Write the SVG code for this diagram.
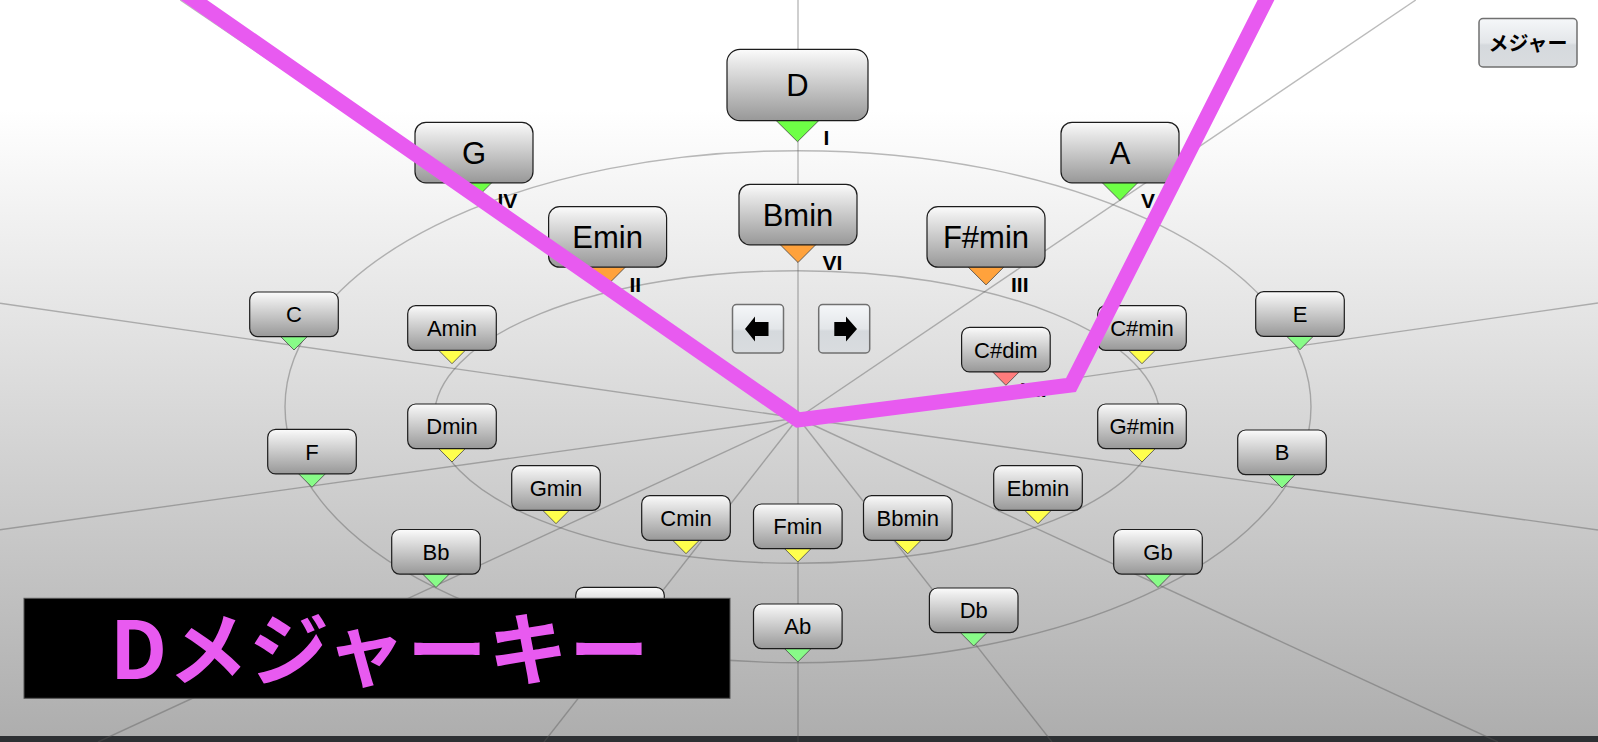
<svg xmlns="http://www.w3.org/2000/svg" width="1598" height="742" viewBox="0 0 1598 742">
<defs>
<linearGradient id="bg" x1="0" y1="0" x2="0" y2="1">
<stop offset="0.148" stop-color="#ffffff"/>
<stop offset="0.99" stop-color="#aeaeae"/>
</linearGradient>
<linearGradient id="boxg" x1="0" y1="0" x2="0" y2="1">
<stop offset="0" stop-color="#fcfcfc"/>
<stop offset="0.15" stop-color="#ebebeb"/>
<stop offset="1" stop-color="#989898"/>
</linearGradient>
<linearGradient id="btng" x1="0" y1="0" x2="0" y2="1">
<stop offset="0" stop-color="#f5f7f9"/>
<stop offset="0.5" stop-color="#e3e6e9"/>
<stop offset="0.55" stop-color="#d5d9dd"/>
<stop offset="1" stop-color="#d9dcdf"/>
</linearGradient>
</defs>
<style>
.grid{fill:none;stroke:#555;stroke-opacity:0.4;stroke-width:1.4}
.box{fill:url(#boxg);stroke:#1c1c1c;stroke-width:1.2}
.ptr{stroke:#444;stroke-width:0.8}
.maj{fill:#88fb88}
.min{fill:#ffff4d}
.kmaj{fill:#6eff46}
.kmin{fill:#ffa23c}
.kdim{fill:#ff7c7c}
.sm{font-family:"Liberation Sans",Arial,sans-serif;font-size:22px;fill:#000;text-anchor:middle}
.lg{font-family:"Liberation Sans",Arial,sans-serif;font-size:31px;fill:#000;text-anchor:middle}
.rn{font-family:"Liberation Sans",Arial,sans-serif;font-size:21px;font-weight:bold;fill:#000}
.btn{fill:url(#btng);stroke:#707070;stroke-width:1.5}
.arr{fill:#000}
</style>
<rect x="0" y="0" width="1598" height="742" fill="url(#bg)"/>
<rect x="0" y="736" width="1598" height="6" fill="#2d3033"/>
<g id="grid">
<ellipse class="grid" cx="798" cy="406.7" rx="513" ry="256"/>
<ellipse class="grid" cx="797" cy="417" rx="362.7" ry="146.3"/>
<line class="grid" x1="798" y1="0" x2="798" y2="742"/>
<line class="grid" x1="798" y1="418" x2="1415.8" y2="0"/>
<line class="grid" x1="798" y1="418" x2="180.2" y2="0"/>
<line class="grid" x1="798" y1="418" x2="1598" y2="303"/>
<line class="grid" x1="798" y1="418" x2="0" y2="303.3"/>
<line class="grid" x1="798" y1="418" x2="1598" y2="530"/>
<line class="grid" x1="798" y1="418" x2="0" y2="529.7"/>
<line class="grid" x1="798" y1="418" x2="1498" y2="742"/>
<line class="grid" x1="798" y1="418" x2="98" y2="742"/>
<line class="grid" x1="798" y1="418" x2="1052" y2="742"/>
<line class="grid" x1="798" y1="418" x2="544" y2="742"/>
</g>
<g id="node-C"><polygon class="ptr maj" points="279.7,335.6 308.3,335.6 294,350"/><rect class="box" x="249.7" y="292" width="88.6" height="44.6" rx="8"/><text class="sm" x="294" y="322.2">C</text></g>
<g id="node-F"><polygon class="ptr maj" points="297.7,472.9 326.3,472.9 312,487.3"/><rect class="box" x="267.7" y="429.3" width="88.6" height="44.6" rx="8"/><text class="sm" x="312" y="459.5">F</text></g>
<g id="node-Bb"><polygon class="ptr maj" points="421.7,573.1 450.3,573.1 436,587.5"/><rect class="box" x="391.7" y="529.5" width="88.6" height="44.6" rx="8"/><text class="sm" x="436" y="559.7">Bb</text></g>
<g id="node-Eb"><polygon class="ptr maj" points="605.7,630.9 634.3,630.9 620,645.3"/><rect class="box" x="575.7" y="587.3" width="88.6" height="44.6" rx="8"/></g>
<g id="node-Ab"><polygon class="ptr maj" points="783.5,647.6 812.1,647.6 797.8,662"/><rect class="box" x="753.5" y="604" width="88.6" height="44.6" rx="8"/><text class="sm" x="797.8" y="634.2">Ab</text></g>
<g id="node-Db"><polygon class="ptr maj" points="959.4,631.6 988,631.6 973.7,646"/><rect class="box" x="929.4" y="588" width="88.6" height="44.6" rx="8"/><text class="sm" x="973.7" y="618.2">Db</text></g>
<g id="node-Gb"><polygon class="ptr maj" points="1143.7,573.1 1172.3,573.1 1158,587.5"/><rect class="box" x="1113.7" y="529.5" width="88.6" height="44.6" rx="8"/><text class="sm" x="1158" y="559.7">Gb</text></g>
<g id="node-B"><polygon class="ptr maj" points="1267.7,473.6 1296.3,473.6 1282,488"/><rect class="box" x="1237.7" y="430" width="88.6" height="44.6" rx="8"/><text class="sm" x="1282" y="460.2">B</text></g>
<g id="node-E"><polygon class="ptr maj" points="1285.7,335.3 1314.3,335.3 1300,349.7"/><rect class="box" x="1255.7" y="291.7" width="88.6" height="44.6" rx="8"/><text class="sm" x="1300" y="321.9">E</text></g>
<g id="node-Amin"><polygon class="ptr min" points="437.7,349.3 466.3,349.3 452,363.7"/><rect class="box" x="407.7" y="305.7" width="88.6" height="44.6" rx="8"/><text class="sm" x="452" y="335.9">Amin</text></g>
<g id="node-Dmin"><polygon class="ptr min" points="437.7,447.6 466.3,447.6 452,462"/><rect class="box" x="407.7" y="404" width="88.6" height="44.6" rx="8"/><text class="sm" x="452" y="434.2">Dmin</text></g>
<g id="node-Gmin"><polygon class="ptr min" points="541.7,509.3 570.3,509.3 556,523.7"/><rect class="box" x="511.7" y="465.7" width="88.6" height="44.6" rx="8"/><text class="sm" x="556" y="495.9">Gmin</text></g>
<g id="node-Cmin"><polygon class="ptr min" points="671.7,539.3 700.3,539.3 686,553.7"/><rect class="box" x="641.7" y="495.7" width="88.6" height="44.6" rx="8"/><text class="sm" x="686" y="525.9">Cmin</text></g>
<g id="node-Fmin"><polygon class="ptr min" points="783.5,547.6 812.1,547.6 797.8,562"/><rect class="box" x="753.5" y="504" width="88.6" height="44.6" rx="8"/><text class="sm" x="797.8" y="534.2">Fmin</text></g>
<g id="node-Bbmin"><polygon class="ptr min" points="893.5,539.3 922.1,539.3 907.8,553.7"/><rect class="box" x="863.5" y="495.7" width="88.6" height="44.6" rx="8"/><text class="sm" x="907.8" y="525.9">Bbmin</text></g>
<g id="node-Ebmin"><polygon class="ptr min" points="1023.7,509.3 1052.3,509.3 1038,523.7"/><rect class="box" x="993.7" y="465.7" width="88.6" height="44.6" rx="8"/><text class="sm" x="1038" y="495.9">Ebmin</text></g>
<g id="node-Gsmin"><polygon class="ptr min" points="1127.7,447.6 1156.3,447.6 1142,462"/><rect class="box" x="1097.7" y="404" width="88.6" height="44.6" rx="8"/><text class="sm" x="1142" y="434.2">G#min</text></g>
<g id="node-Csmin"><polygon class="ptr min" points="1127.7,349.3 1156.3,349.3 1142,363.7"/><rect class="box" x="1097.7" y="305.7" width="88.6" height="44.6" rx="8"/><text class="sm" x="1142" y="335.9">C#min</text></g>
<g id="node-Csdim"><polygon class="ptr kdim" points="991.6,370.9 1020.2,370.9 1005.9,385.3"/><rect class="box" x="961.6" y="327.3" width="88.6" height="44.6" rx="8"/><text class="sm" x="1005.9" y="357.5">C#dim</text><text class="rn" x="1021" y="397">VII</text></g>
<g id="node-G"><polygon class="ptr kmaj" points="455.3,181.8 492.7,181.8 474,200.5"/><rect class="box" x="415" y="122.3" width="118" height="60.5" rx="11"/><text class="lg" x="474" y="163.7">G</text><text class="rn" x="497.5" y="208">IV</text></g>
<g id="node-A"><polygon class="ptr kmaj" points="1101.3,181.8 1138.7,181.8 1120,200.5"/><rect class="box" x="1061" y="122.3" width="118" height="60.5" rx="11"/><text class="lg" x="1120" y="163.7">A</text><text class="rn" x="1141" y="208">V</text></g>
<g id="node-Emin"><polygon class="ptr kmin" points="588.9,266.2 626.3,266.2 607.6,284.9"/><rect class="box" x="548.6" y="206.7" width="118" height="60.5" rx="11"/><text class="lg" x="607.6" y="248.1">Emin</text><text class="rn" x="629.5" y="292">II</text></g>
<g id="node-Bmin"><polygon class="ptr kmin" points="779.3,243.8 816.7,243.8 798,262.5"/><rect class="box" x="739" y="184.3" width="118" height="60.5" rx="11"/><text class="lg" x="798" y="225.7">Bmin</text><text class="rn" x="822.5" y="270">VI</text></g>
<g id="node-Fsmin"><polygon class="ptr kmin" points="967.3,266.2 1004.7,266.2 986,284.9"/><rect class="box" x="927" y="206.7" width="118" height="60.5" rx="11"/><text class="lg" x="986" y="248.1">F#min</text><text class="rn" x="1011" y="292">III</text></g>
<g id="node-D"><polygon class="ptr kmaj" points="775.3,119.7 819.7,119.7 797.5,141.7"/><rect class="box" x="727" y="49.3" width="141" height="71.4" rx="13"/><text class="lg" x="797.5" y="96">D</text><text class="rn" x="823.5" y="145">I</text></g>
<g id="btn-prev"><rect class="btn" x="732.5" y="304.5" width="51" height="48.5" rx="4"/><polygon class="arr" points="745,329 755,316.5 755,322 768.5,322 768.5,336 755,336 755,341.5"/></g>
<g id="btn-next"><rect class="btn" x="818.7" y="304.5" width="51" height="48.5" rx="4"/><polygon class="arr" points="857,329 846,316.5 846,322 834.3,322 834.3,336 846,336 846,341.5"/></g>
<g id="connectors">
<polyline points="165.2,-20 798,420 1071,385 1276.1,-20" fill="none" stroke="#e85af0" stroke-width="15" stroke-linejoin="miter" stroke-miterlimit="10"/>
</g>
<g id="btn-mode"><rect class="btn" x="1479" y="18.5" width="98" height="48.5" rx="4"/><text x="1528" y="50.5" font-family="'Noto Sans CJK JP',sans-serif" font-size="20" font-weight="bold" text-anchor="middle" fill="#000">メジャー</text></g>
<g id="title"><rect x="24" y="598.3" width="706" height="100" fill="#000" stroke="#555" stroke-width="1"/><text x="110" y="679" font-family="'Noto Sans CJK JP',sans-serif" font-size="80" font-weight="bold" letter-spacing="1" fill="#e85af0">Dメジャーキー</text></g>
</svg>
